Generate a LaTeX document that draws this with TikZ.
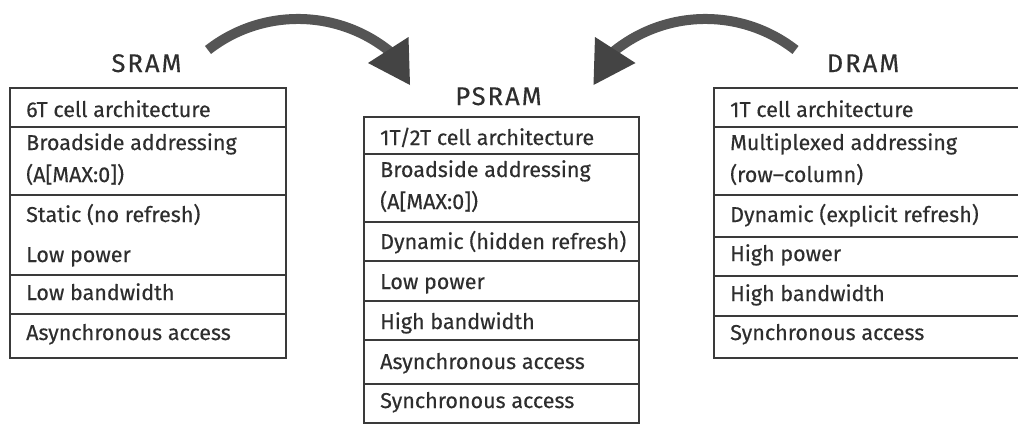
\documentclass[tikz,border=0pt]{standalone}
\usepackage{fontspec}
\setmainfont{Fira Sans}[FakeBold=0.35]
\newfontfamily\headfont{Fira Sans}[FakeBold=0.35,LetterSpace=8]
\definecolor{ink}{HTML}{2E2E2E}
\definecolor{rule}{HTML}{3A3A3A}
\definecolor{shaft}{HTML}{555555}
\definecolor{head}{HTML}{444444}
\tikzset{
  title/.style={font=\headfont\fontsize{25.5}{30}\selectfont, text=ink, anchor=base, inner sep=0pt},
  item/.style={font=\fontsize{21.5}{26}\selectfont, text=ink, anchor=base west, inner sep=0pt},
  frame/.style={draw=rule, line width=1.8pt},
  curvedshaft/.style={draw=shaft, line width=10pt},
  tiphead/.style={fill=head},
}
\begin{document}
\begin{tikzpicture}[x=1pt,y=-1pt]
\useasboundingbox (0,0) rectangle (1018,424);
\clip (0,0) rectangle (1018,424);

% ---------- SRAM ----------
\node[title] (sram) at (146.5,72) {SRAM};
\draw[frame] (9.7,88) rectangle (286,358);
\foreach \y in {127,195,275,314} \draw[frame] (9.7,\y) -- (286,\y);
\node[item] (s1) at (26,117) {6T cell architecture};
\node[item] (s2) at (26,150) {Broadside addressing};
\node[item] (s3) at (26,182) {(A[MAX:0])};
\node[item] (s4) at (26,222) {Static (no refresh)};
\node[item] (s5) at (26,262) {Low power};
\node[item] (s6) at (26,300) {Low bandwidth};
\node[item] (s7) at (26,340) {Asynchronous access};

% ---------- PSRAM ----------
\node[title] (psram) at (498.5,105) {PSRAM};
\draw[frame] (364,117) rectangle (639,423);
\foreach \y in {154,222,261,301,340,384} \draw[frame] (364,\y) -- (639,\y);
\node[item] (p1) at (380,145) {1T/2T cell architecture};
\node[item] (p2) at (380,177) {Broadside addressing};
\node[item] (p3) at (380,209) {(A[MAX:0])};
\node[item] (p4) at (380,249) {Dynamic (hidden refresh)};
\node[item] (p5) at (380,289) {Low power};
\node[item] (p6) at (380,329) {High bandwidth};
\node[item] (p7) at (380,369) {Asynchronous access};
\node[item] (p8) at (380,408) {Synchronous access};

% ---------- DRAM ----------
\node[title] (dram) at (863,72) {DRAM};
\draw[frame] (714,88) rectangle (1040,358);
\foreach \y in {127,195,237,276,316} \draw[frame] (714,\y) -- (1040,\y);
\node[item] (d1) at (730,117) {1T cell architecture};
\node[item] (d2) at (730,150) {Multiplexed addressing};
\node[item] (d3) at (730,182) {(row–column)};
\node[item] (d4) at (730,222) {Dynamic (explicit refresh)};
\node[item] (d5) at (730,261) {High power};
\node[item] (d6) at (730,301) {High bandwidth};
\node[item] (d7) at (730,340) {Synchronous access};

% ---------- curved arrows into PSRAM ----------
\coordinate (sTail) at (208,50);
\coordinate (sHeadA) at (368,63);
\coordinate (sHeadB) at (408.5,37);
\coordinate (sTip) at (410,85);
\draw[curvedshaft] (sTail) arc[start angle=-128.05, end angle=-50, radius=146];
\fill[tiphead] (sHeadA) -- (sHeadB) -- (sTip) -- cycle;

\coordinate (dTail) at (795.5,50);
\coordinate (dHeadA) at (635.5,63);
\coordinate (dHeadB) at (595,37);
\coordinate (dTip) at (593.5,85);
\draw[curvedshaft] (dTail) arc[start angle=-51.95, end angle=-130, radius=146];
\fill[tiphead] (dHeadA) -- (dHeadB) -- (dTip) -- cycle;
\end{tikzpicture}
\end{document}
